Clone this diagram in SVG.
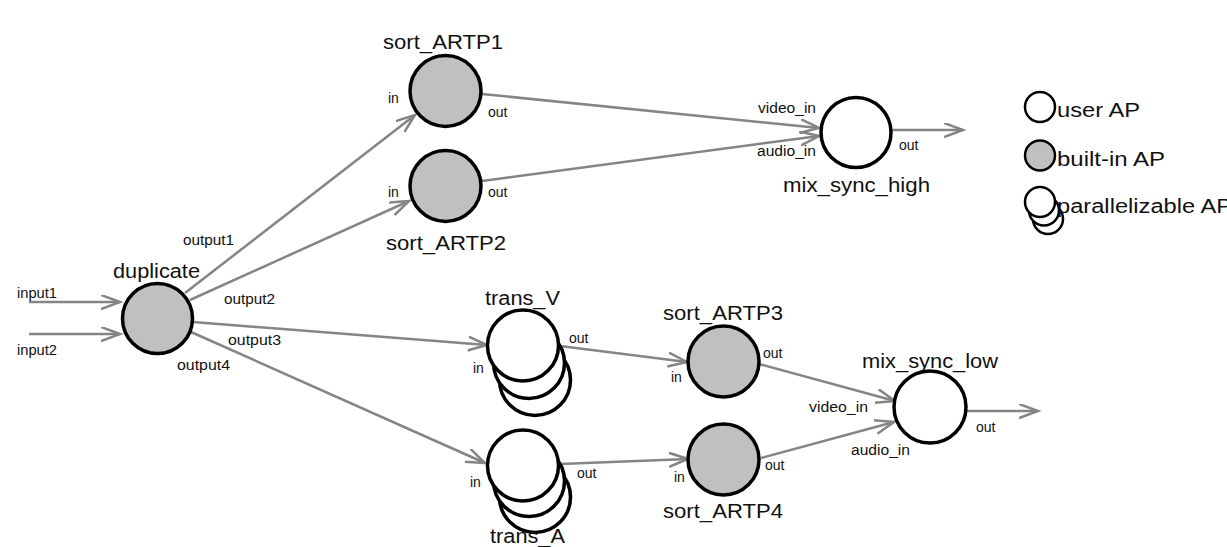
<svg xmlns="http://www.w3.org/2000/svg" width="1227" height="547" viewBox="0 0 1227 547">
<style>
.edge{fill:none;stroke:#858585;stroke-width:2.5;marker-end:url(#arr)}
.ap{stroke:#000;stroke-width:3.5;fill:#fff}
.bi{stroke:#000;stroke-width:3.5;fill:#c0c0c0}
.lg{stroke:#000;stroke-width:2.5;fill:#fff}
.lgb{stroke:#000;stroke-width:2.5;fill:#c0c0c0}
.big{font-family:"Liberation Sans",Arial,sans-serif;font-size:20px;fill:#111}
.sm{font-family:"Liberation Sans",Arial,sans-serif;font-size:14px;fill:#111}
</style>
<defs>
<marker id="arr" markerUnits="userSpaceOnUse" markerWidth="24" markerHeight="18" refX="19" refY="7.5" orient="auto" viewBox="0 0 24 18">
<path d="M0,0.5 L19,7.5 L0,14.5" fill="none" stroke="#858585" stroke-width="2.5"/>
</marker>
</defs>
<rect width="1227" height="547" fill="#fff"/>
<g id="connectors">
<line class="edge" x1="29" y1="302" x2="120" y2="302"/>
<line class="edge" x1="29" y1="334" x2="120" y2="334"/>
<line class="edge" x1="185" y1="293" x2="415" y2="115"/>
<line class="edge" x1="190" y1="300" x2="409" y2="201"/>
<line class="edge" x1="193" y1="322" x2="487" y2="345"/>
<line class="edge" x1="191" y1="332" x2="485" y2="463"/>
<line class="edge" x1="482" y1="94" x2="819" y2="128"/>
<line class="edge" x1="482" y1="181" x2="819" y2="136"/>
<line class="edge" x1="892" y1="130" x2="963" y2="130"/>
<line class="edge" x1="560" y1="346" x2="687" y2="362"/>
<line class="edge" x1="560" y1="464" x2="688" y2="459"/>
<line class="edge" x1="759" y1="364" x2="895" y2="401"/>
<line class="edge" x1="761" y1="458" x2="894" y2="422"/>
<line class="edge" x1="966" y1="411" x2="1038" y2="411"/>
<text class="sm" x="17" y="298" textLength="40" lengthAdjust="spacingAndGlyphs">input1</text>
<text class="sm" x="17" y="355" textLength="40" lengthAdjust="spacingAndGlyphs">input2</text>
<text class="sm" x="183" y="245" textLength="51" lengthAdjust="spacingAndGlyphs">output1</text>
<text class="sm" x="224" y="304" textLength="51" lengthAdjust="spacingAndGlyphs">output2</text>
<text class="sm" x="228" y="345" textLength="53" lengthAdjust="spacingAndGlyphs">output3</text>
<text class="sm" x="177" y="370" textLength="53" lengthAdjust="spacingAndGlyphs">output4</text>
</g>
<g id="duplicate">
<circle class="bi" cx="157.5" cy="318.5" r="35"/>
<text class="big" x="113" y="278" textLength="87" lengthAdjust="spacingAndGlyphs">duplicate</text>
</g>
<g id="sort_ARTP1">
<circle class="bi" cx="445.5" cy="91" r="35.5"/>
<text class="big" x="383" y="49" textLength="120" lengthAdjust="spacingAndGlyphs">sort_ARTP1</text>
<text class="sm" x="388" y="103">in</text>
<text class="sm" x="488" y="117">out</text>
</g>
<g id="sort_ARTP2">
<circle class="bi" cx="445.5" cy="186" r="35.5"/>
<text class="big" x="386" y="250" textLength="120" lengthAdjust="spacingAndGlyphs">sort_ARTP2</text>
<text class="sm" x="388" y="197">in</text>
<text class="sm" x="488" y="197">out</text>
</g>
<g id="mix_sync_high">
<circle class="ap" cx="856" cy="132.5" r="35"/>
<text class="big" x="783" y="192" textLength="147" lengthAdjust="spacingAndGlyphs">mix_sync_high</text>
<text class="sm" x="758" y="113" textLength="58" lengthAdjust="spacingAndGlyphs">video_in</text>
<text class="sm" x="757" y="156" textLength="59" lengthAdjust="spacingAndGlyphs">audio_in</text>
<text class="sm" x="899" y="150">out</text>
</g>
<g id="trans_V">
<circle class="ap" cx="535" cy="380" r="35.5"/>
<circle class="ap" cx="529" cy="363" r="35.5"/>
<circle class="ap" cx="523" cy="345.5" r="35.5"/>
<text class="big" x="485" y="305" textLength="75" lengthAdjust="spacingAndGlyphs">trans_V</text>
<text class="sm" x="473" y="373">in</text>
<text class="sm" x="569" y="343">out</text>
</g>
<g id="trans_A">
<circle class="ap" cx="535" cy="497" r="35.5"/>
<circle class="ap" cx="529" cy="481" r="35.5"/>
<circle class="ap" cx="523" cy="465.5" r="35.5"/>
<text class="big" x="490" y="543" textLength="75" lengthAdjust="spacingAndGlyphs">trans_A</text>
<text class="sm" x="470" y="487">in</text>
<text class="sm" x="577" y="478">out</text>
</g>
<g id="sort_ARTP3">
<circle class="bi" cx="723.5" cy="361.5" r="35.5"/>
<text class="big" x="663" y="320" textLength="120" lengthAdjust="spacingAndGlyphs">sort_ARTP3</text>
<text class="sm" x="671" y="382">in</text>
<text class="sm" x="763" y="358">out</text>
</g>
<g id="sort_ARTP4">
<circle class="bi" cx="723.5" cy="459.5" r="35.5"/>
<text class="big" x="663" y="518" textLength="120" lengthAdjust="spacingAndGlyphs">sort_ARTP4</text>
<text class="sm" x="674" y="482">in</text>
<text class="sm" x="765" y="470">out</text>
</g>
<g id="mix_sync_low">
<circle class="ap" cx="930" cy="407" r="36"/>
<text class="big" x="862" y="368" textLength="136" lengthAdjust="spacingAndGlyphs">mix_sync_low</text>
<text class="sm" x="809" y="412" textLength="59" lengthAdjust="spacingAndGlyphs">video_in</text>
<text class="sm" x="851" y="455" textLength="59" lengthAdjust="spacingAndGlyphs">audio_in</text>
<text class="sm" x="976" y="432">out</text>
</g>
<g id="legend">
<circle class="lg" cx="1040" cy="107" r="15"/>
<text class="big" x="1057" y="117" textLength="83" lengthAdjust="spacingAndGlyphs">user AP</text>
<circle class="lgb" cx="1040" cy="155.5" r="15"/>
<text class="big" x="1057" y="166" textLength="108" lengthAdjust="spacingAndGlyphs">built-in AP</text>
<circle class="lg" cx="1048" cy="219" r="15"/>
<circle class="lg" cx="1044" cy="210.5" r="15"/>
<circle class="lg" cx="1040" cy="202" r="15"/>
<text class="big" x="1057" y="213" textLength="175" lengthAdjust="spacingAndGlyphs">parallelizable AP</text>
</g>
</svg>
